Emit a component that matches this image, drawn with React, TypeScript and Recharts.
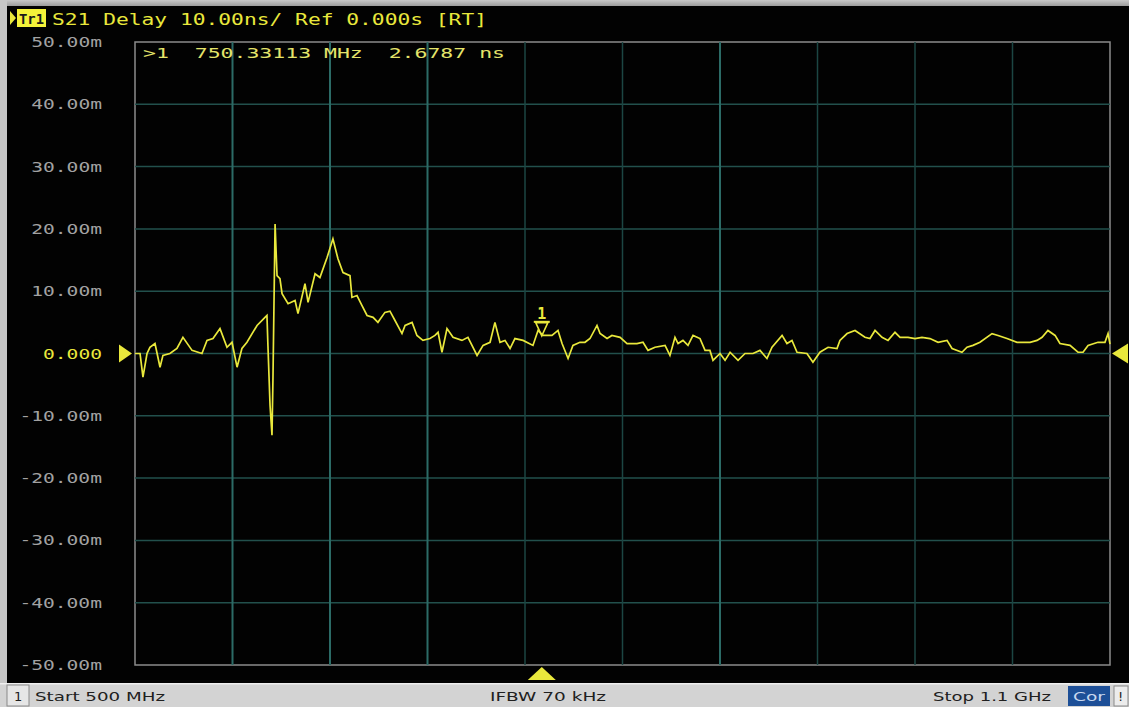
import React from "react";
import { LineChart, Line, XAxis, YAxis, ReferenceLine, ReferenceArea, ReferenceDot } from "recharts";

// trace, [MHz, ns*1e-3]
const traceStart: [number, number][] = [
  [500.0, 0], [503.1, 0], [504.9, -3.8], [507.4, 0], [509.2, 1], [512.3, 1.6], [515.4, -2.2],
  [517.2, -0.3], [521.5, 0], [525.8, 0.8], [529.5, 2.6], [535.1, 0.5], [541.2, 0], [544.3, 2.1],
  [548.0, 2.4], [552.3, 4], [556.6, 1], [559.7, 1.8], [562.8, -2.2], [565.8, 0.8], [568.9, 1.8],
  [575.1, 4.5], [580.0, 5.8], [581.2, 6.1], [581.8, 1.3], [583.1, -8.3], [584.3, -13.1], [584.9, -4],
];
const tracePeak: [number, number][] = [
  [586.2, 20.8], [587.4, 12.5], [589.2, 12], [590.5, 9.6], [594.2, 8], [598.5, 8.5], [600.3, 6.4],
  [604.6, 11.2], [606.5, 8.2], [610.8, 12.8], [613.8, 12.2], [618.2, 15.4], [621.8, 18.4], [624.9, 15.2],
  [628.0, 13], [632.3, 12.5], [633.5, 9], [636.6, 9.3], [639.7, 7.7], [642.8, 6.1], [646.5, 5.8],
  [649.5, 5], [653.8, 6.6], [656.9, 6.8], [660.0, 5.3], [664.3, 3.2], [666.2, 4.5], [670.5, 5],
];
const traceMid: [number, number][] = [
  [673.5, 2.9], [677.2, 2.1], [681.5, 2.4], [684.6, 2.9], [686.5, 3.4], [688.9, 0.2], [692.0, 4],
  [695.7, 2.6], [701.2, 2.1], [704.9, 2.6], [710.5, -0.3], [714.2, 1.3], [718.5, 1.8], [721.5, 5],
  [724.6, 1.8], [727.7, 2.1], [730.8, 0.8], [733.8, 2.4], [738.8, 2.1], [744.9, 1.3], [748.0, 3.7],
  [751.1, 2.9], [756.6, 2.9], [760.3, 3.7], [762.8, 1.6], [766.5, -0.8], [769.5, 1.3], [773.8, 1.8],
  [776.9, 1.8], [780.0, 2.4], [784.3, 4.5], [786.2, 3.2], [790.5, 2.4], [793.5, 2.9], [798.5, 2.6],
  [802.8, 1.6], [808.9, 1.6], [812.6, 1.8], [815.7, 0.5], [820.0, 1], [826.2, 1.3], [829.2, -0.3],
  [832.3, 2.6], [834.2, 1.6], [837.2, 2.1], [840.3, 1.3], [843.4, 2.9], [847.7, 2.4], [850.8, 0.5],
  [853.8, 0.5], [855.7, -1.1], [860.0, 0], [863.1, -1.1], [866.2, 0.2], [871.1, -1.1], [875.4, 0],
];
const traceEnd: [number, number][] = [
  [880.3, 0], [884.6, 0.5], [888.9, -0.8], [892.0, 1], [898.2, 2.9], [901.2, 1.6], [904.3, 2.1],
  [907.4, 0.2], [913.5, 0], [917.2, -1.4], [921.5, 0.2], [926.5, 1], [932.0, 0.8], [933.8, 2.1],
  [938.2, 3.2], [943.1, 3.7], [949.2, 2.6], [952.3, 2.4], [955.4, 3.7], [959.7, 2.6], [963.4, 2.1],
  [967.7, 3.4], [970.8, 2.6], [975.7, 2.6], [980.0, 2.4], [984.3, 2.6], [989.2, 2.4], [994.2, 1.8],
  [999.7, 2.1], [1002.8, 0.8], [1008.9, 0.2], [1012.0, 1], [1015.7, 1.3], [1020.0, 1.8], [1027.4, 3.2],
  [1031.1, 2.9], [1036.6, 2.4], [1042.8, 1.8], [1050.8, 1.8], [1055.1, 2.1], [1058.2, 2.6], [1061.8, 3.7],
  [1066.2, 2.9], [1069.2, 1.6], [1075.4, 1.3], [1080.3, 0.2], [1083.4, 0.2], [1086.5, 1.3], [1092.6, 1.8],
  [1096.9, 1.8], [1098.8, 3.2], [1100.0, 1.5],
];

const yTicks = [50, 40, 30, 20, 10, 0, -10, -20, -30, -40, -50];
const yLabels = ["50.00m", "40.00m", "30.00m", "20.00m", "10.00m", "0.000", "-10.00m", "-20.00m", "-30.00m", "-40.00m", "-50.00m"];
const gridFreqs = [560, 620, 680, 740, 800, 860, 920, 980, 1040];
const brightFreqs = [560, 620, 680, 860];
const hGrid = [40, 30, 20, 10, 0, -10, -20, -30, -40];

const marker = { freq: 750.33113, delay: 2.6787 };
const header = "S21 Delay 10.00ns/ Ref 0.000s [RT]";
const readout = ">1  750.33113 MHz  2.6787 ns";

const data = [...traceStart, ...tracePeak, ...traceMid, ...traceEnd].map(([f, v]) => ({ f, v }));

const MONO = "'DejaVu Sans Mono', monospace";
const YEL = "#e9e83c";

const YTick = (props: any) => {
  const { y, payload } = props;
  const i = yTicks.indexOf(payload.value);
  const label = yLabels[i] ?? "";
  const zero = payload.value === 0;
  return (
    <text x={102} y={y + 5} textAnchor="end" fontFamily={MONO} fontSize={14}
      fill={zero ? YEL : "#a2a2a2"} textLength={label.length * 11.8} lengthAdjust="spacingAndGlyphs">
      {label}
    </text>
  );
};

export default function App() {
  return (
    <div style={{ position: "absolute", left: 0, top: 0, width: 1129, height: 707, background: "#020202", overflow: "hidden" }}>
      <div style={{ position: "absolute", left: 0, top: 0, width: 1129, height: 6, background: "linear-gradient(#c8c8c8, #9c9c9c)" }} />
      <div style={{ position: "absolute", left: 0, top: 0, width: 7, height: 683, background: "#c6c6c6" }} />

      <div style={{ position: "absolute", left: 0, top: 0 }}>
        <LineChart width={1129} height={707} data={data} margin={{ top: 42, right: 19, bottom: 42, left: 8 }}>
          <XAxis type="number" dataKey="f" domain={[500, 1100]} hide />
          <YAxis type="number" domain={[-50, 50]} ticks={yTicks} width={127} axisLine={false} tickLine={false} tick={<YTick />} interval={0} />

          {hGrid.map((v) => (
            <ReferenceLine key={"h" + v} y={v} stroke="#22504c" strokeWidth={1.5} />
          ))}
          {gridFreqs.map((f) => (
            <ReferenceLine key={"v" + f} x={f}
              stroke={brightFreqs.includes(f) ? "#2c6b66" : "#1c4643"}
              strokeWidth={brightFreqs.includes(f) ? 2 : 1.5} />
          ))}
          <ReferenceArea x1={500} x2={1100} y1={-50} y2={50} fill="none" stroke="#8c8c8c" strokeWidth={1.5} />

          <Line type="linear" dataKey="v" stroke={YEL} strokeWidth={1.7} dot={false} isAnimationActive={false} />

          <ReferenceDot x={500} y={0} r={0} shape={(p: any) => (
            <polygon points={`${p.cx - 16},${p.cy - 9} ${p.cx - 3},${p.cy} ${p.cx - 16},${p.cy + 9}`} fill={YEL} />
          )} />
          <ReferenceDot x={1100} y={0} r={0} shape={(p: any) => (
            <polygon points={`${p.cx + 2},${p.cy} ${p.cx + 18},${p.cy - 10} ${p.cx + 18},${p.cy + 10}`} fill={YEL} />
          )} />
          <ReferenceDot x={marker.freq} y={-50} r={0} shape={(p: any) => (
            <polygon points={`${p.cx},${p.cy + 2} ${p.cx - 14},${p.cy + 15} ${p.cx + 14},${p.cy + 15}`} fill={YEL} />
          )} />
          <ReferenceDot x={marker.freq} y={marker.delay} r={0} shape={(p: any) => (
            <g>
              <text x={p.cx} y={p.cy - 18} textAnchor="middle" fontFamily={MONO} fontWeight="bold" fontSize={15} fill={YEL}>1</text>
              <line x1={p.cx - 8} x2={p.cx + 8} y1={p.cy - 15} y2={p.cy - 15} stroke={YEL} strokeWidth={2} />
              <polygon points={`${p.cx - 6},${p.cy - 14} ${p.cx + 6},${p.cy - 14} ${p.cx},${p.cy - 1}`} fill="none" stroke={YEL} strokeWidth={1.6} />
            </g>
          )} />
        </LineChart>
      </div>

      <svg width={1129} height={707} style={{ position: "absolute", left: 0, top: 0, pointerEvents: "none" }}>
        <polygon points="10,11 16,18 10,25" fill={YEL} />
        <rect x={17} y={9} width={29} height={18} fill="#f4f23a" />
        <text x={19} y={24} fontFamily={MONO} fontSize={14} fontWeight="bold" fill="#1a1a1a" textLength={25} lengthAdjust="spacingAndGlyphs">Tr1</text>
        <text x={52} y={25} fontFamily={MONO} fontSize={15} fill={YEL} textLength={435} lengthAdjust="spacingAndGlyphs">{header}</text>
        <text x={143} y={58} fontFamily={MONO} fontSize={14} fill="#e4e46a" textLength={362} lengthAdjust="spacingAndGlyphs" style={{ whiteSpace: "pre" }}>{readout}</text>

        <rect x={0} y={683} width={1129} height={24} fill="#d3d3d3" />
        <rect x={0} y={683} width={1129} height={1.5} fill="#f0f0f0" />
        <rect x={7} y={685} width={22} height={21} fill="#e6e6e6" stroke="#8a8a8a" strokeWidth={1} />
        <text x={14} y={701} fontFamily="'DejaVu Sans', sans-serif" fontSize={13} fill="#202020">1</text>
        <text x={35} y={701} fontFamily="'DejaVu Sans', sans-serif" fontSize={13} fill="#202020" textLength={130} lengthAdjust="spacingAndGlyphs">Start 500 MHz</text>
        <text x={490} y={701} fontFamily="'DejaVu Sans', sans-serif" fontSize={13} fill="#202020" textLength={116} lengthAdjust="spacingAndGlyphs">IFBW 70 kHz</text>
        <text x={933} y={701} fontFamily="'DejaVu Sans', sans-serif" fontSize={13} fill="#202020" textLength={118} lengthAdjust="spacingAndGlyphs">Stop 1.1 GHz</text>
        <rect x={1068} y={686} width={42} height={20} fill="#1d4f97" />
        <text x={1073} y={701} fontFamily="'DejaVu Sans', sans-serif" fontSize={13} fill="#c8d8f0" textLength={32} lengthAdjust="spacingAndGlyphs">Cor</text>
        <rect x={1114} y={686} width={14} height={20} fill="#ececec" stroke="#8a8a8a" strokeWidth={1} />
        <text x={1118} y={701} fontFamily="'DejaVu Sans', sans-serif" fontSize={13} fill="#202020">!</text>
      </svg>
    </div>
  );
}
